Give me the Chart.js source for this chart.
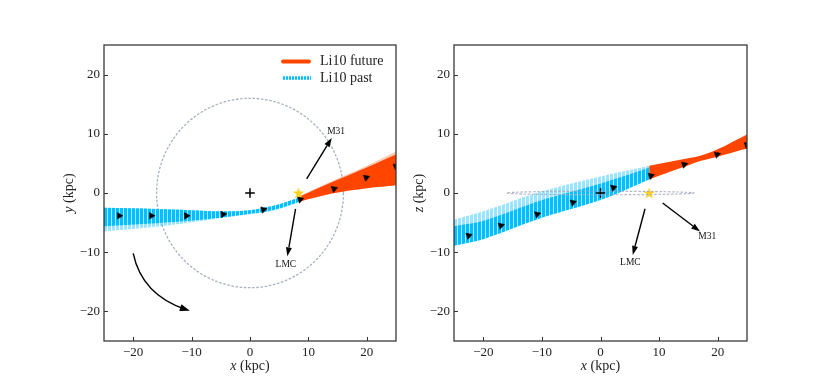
<!DOCTYPE html>
<html><head><meta charset="utf-8">
<script src="https://cdn.jsdelivr.net/npm/chart.js@4.4.0/dist/chart.umd.min.js"></script>
<style>
body{margin:0;background:#fff;width:830px;height:383px;overflow:hidden;position:relative}
.w{position:absolute;top:0;height:383px}
</style></head><body>
<div class="w" style="left:0;width:410px"><canvas id="c1"></canvas></div>
<div class="w" style="left:410px;width:420px"><canvas id="c2"></canvas></div>
<script>
// ---------- data ----------
const TICKS = [-20, -10, 0, 10, 20];
const AXIS_MIN = -25, AXIS_MAX = 25;
const LEGEND_LABELS = ['Li10 future', 'Li10 past'];

// left panel (x, y)
const XY_PAST_TOP = [[-25,-2.5],[-16,-2.7],[-10.3,-2.9],[-4.6,-3.1],[0,-2.9],[2.3,-2.5],[5,-1.9],[8.3,-0.8]];
const XY_PAST_CORE_BOTTOM = [[-25,-5.6],[-16,-5.1],[-10.3,-4.7],[-4.6,-4.1],[0,-3.5],[2.3,-3.2],[5,-2.6],[8.3,-1.5]];
const XY_PAST_BOTTOM = [[-25,-6.5],[-16,-5.7],[-10.3,-5.0],[-4.6,-4.2],[0,-3.6],[2.3,-3.3],[5,-2.7],[8.3,-1.6]];
const XY_FUT_TOP = [[8.3,-0.6],[14,2.0],[20,4.6],[25,7.0]];
const XY_FUT_CORE_TOP = [[8.3,-0.7],[14,1.8],[20,4.3],[25,6.5]];
const XY_FUT_BOTTOM = [[8.3,-1.5],[14,-0.1],[20,0.8],[25,1.3]];
const XY_MARKERS = [[-22.4,-3.85],[-16.9,-3.85],[-10.9,-3.85],[-4.6,-3.6],[2.3,-2.8],[8.6,-1.1],[14.4,0.7],[19.9,2.6],[25.0,4.5]];

// right panel (x, z)
const XZ_PAST_LIGHT_TOP = [[-25,-4.5],[-20,-3.1],[-10,0.3],[0,2.8],[8.3,4.6]];
const XZ_PAST_TOP = [[-25,-5.6],[-20,-4.7],[-10,-1.2],[0,1.6],[8.3,4.3]];
const XZ_PAST_BOTTOM = [[-25,-8.9],[-20,-7.8],[-10,-4.2],[0,-1.2],[8.3,2.3]];
const XZ_FUT_TOP = [[8.3,4.6],[14.5,5.8],[17,6.3],[19.8,7.3],[25,9.9]];
const XZ_FUT_BOTTOM = [[8.3,2.3],[14.5,4.5],[17,5.4],[19.8,6.1],[25,7.5]];
const XZ_MARKERS = [[-22.5,-7.2],[-17,-5.5],[-10.8,-3.6],[-4.7,-1.6],[2.2,0.9],[8.6,2.9],[14.3,4.8],[19.9,6.5],[25,8.1]];

const GC = [0, 0];          // Galactic centre
const SUN = [8.3, 0];
const DISK_R = 16;          // disc radius (kpc)
const DISK_EDGE_Z = 0.3;    // apparent thickness in x-z view

const XY_ARROWS = [ {name:'M31', from:[9.7,2.4], to:[14.0,9.3], label:[14.75,10.35]},
                    {name:'LMC', from:[7.8,-2.7], to:[6.4,-10.7], label:[6.15,-12.0]} ];
const XZ_ARROWS = [ {name:'LMC', from:[7.6,-2.66], to:[5.5,-10.46], label:[5.1,-11.75]},
                    {name:'M31', from:[10.6,-1.7], to:[17.0,-6.5], label:[18.2,-7.3]} ];
const ROT_ARROW = {from:[-20,-10.2], ctrl:[-18.5,-17.2], to:[-10.3,-19.9]};

// ---------- styling helpers ----------
const SERIF = "'Liberation Serif', 'DejaVu Serif', serif";
const CYAN = '#00BFFF', ORANGE = '#FF4500';
const pts = a => a.map(p => ({x:p[0], y:p[1]}));

function stripes(main, gap) {
  const c = document.createElement('canvas'); c.width = 4; c.height = 4;
  const g = c.getContext('2d');
  g.fillStyle = gap; g.fillRect(0,0,4,4);
  g.fillStyle = main; g.fillRect(0,0,3,4);
  return g.createPattern(c, 'repeat');
}
function starImg() {
  const c = document.createElement('canvas'); c.width = 14; c.height = 14;
  const g = c.getContext('2d'); g.fillStyle = '#FFD21F';
  g.beginPath();
  for (let i = 0; i < 10; i++) {
    const r = i % 2 ? 2.4 : 6.2, a = -Math.PI/2 + i*Math.PI/5;
    g.lineTo(7 + r*Math.cos(a), 7.5 + r*Math.sin(a));
  }
  g.closePath(); g.fill();
  return c;
}
const STAR = starImg();

function band(top, bottom, fillStyle, order) {
  return [
    {data: pts(top), fill: '+1', backgroundColor: fillStyle, borderColor: 'rgba(0,0,0,0)', borderWidth: 1, pointRadius: 0, tension: 0.35, order},
    {data: pts(bottom), fill: false, borderColor: 'rgba(0,0,0,0)', borderWidth: 1, pointRadius: 0, tension: 0.35, order}
  ];
}
function markerSet(arr) {
  return {data: pts(arr), showLine: false, pointStyle: 'triangle', pointRadius: 3.8,
    backgroundColor: '#000', borderColor: '#000', borderWidth: 0.5, order: 0,
    rotation: (c) => {
      const d = c.dataset.data; const i = Math.min(c.dataIndex, d.length - 2);
      const xs = c.chart.scales.x, ys = c.chart.scales.y;
      const dx = xs.getPixelForValue(d[i+1].x) - xs.getPixelForValue(d[i].x);
      const dy = ys.getPixelForValue(d[i+1].y) - ys.getPixelForValue(d[i].y);
      return 90 + Math.atan2(dy, dx) * 180 / Math.PI;
    }};
}
function pointSets() {
  return [
    {data: pts([GC]), showLine: false, pointStyle: 'cross', pointRadius: 4.8, borderWidth: 1.5, borderColor: '#000', order: 0},
    {data: pts([SUN]), showLine: false, pointStyle: STAR, pointRadius: 6, order: 0}
  ];
}

function arrowHead(ctx, x0, y0, x1, y1, len, w) {
  const a = Math.atan2(y1 - y0, x1 - x0);
  const bx = x1 - len*Math.cos(a), by = y1 - len*Math.sin(a);
  ctx.beginPath(); ctx.moveTo(x1, y1);
  ctx.lineTo(bx + w/2*Math.sin(a), by - w/2*Math.cos(a));
  ctx.lineTo(bx - w/2*Math.sin(a), by + w/2*Math.cos(a));
  ctx.closePath(); ctx.fill();
  return [bx, by];
}

function deco(opt) {
  return {
    id: 'deco',
    beforeDatasetsDraw(chart) {
      if (opt.disk !== 'circle') return;
      const {ctx, scales: {x, y}} = chart;
      ctx.save();
      ctx.strokeStyle = '#A9B1C3'; ctx.lineWidth = 1.3; ctx.setLineDash([2.6, 1.6]);
      ctx.beginPath();
      ctx.ellipse(x.getPixelForValue(0), y.getPixelForValue(0),
        Math.abs(x.getPixelForValue(DISK_R) - x.getPixelForValue(0)),
        Math.abs(y.getPixelForValue(DISK_R) - y.getPixelForValue(0)), 0, 0, 2*Math.PI);
      ctx.stroke(); ctx.restore();
    },
    afterDatasetsDraw(chart) {
      const {ctx, scales: {x, y}} = chart;
      const X = v => x.getPixelForValue(v), Y = v => y.getPixelForValue(v);
      ctx.save();
      if (opt.disk === 'edge') {
        ctx.strokeStyle = 'rgba(165,172,190,0.85)'; ctx.lineWidth = 1.2; ctx.setLineDash([2.6, 1.6]);
        ctx.beginPath();
        ctx.ellipse(X(0), Y(0), Math.abs(X(DISK_R) - X(0)), Math.abs(Y(DISK_EDGE_Z) - Y(0)), 0, 0, 2*Math.PI);
        ctx.stroke();
        ctx.setLineDash([]);
      }
      ctx.strokeStyle = '#000'; ctx.fillStyle = '#000'; ctx.lineWidth = 1.4;
      for (const a of opt.arrows) {
        const x0 = X(a.from[0]), y0 = Y(a.from[1]), x1 = X(a.to[0]), y1 = Y(a.to[1]);
        const [bx, by] = arrowHead(ctx, x0, y0, x1, y1, 9, 6);
        ctx.beginPath(); ctx.moveTo(x0, y0); ctx.lineTo(bx, by); ctx.stroke();
      }
      if (opt.rot) {
        const r = opt.rot;
        const x0 = X(r.from[0]), y0 = Y(r.from[1]), cx = X(r.ctrl[0]), cy = Y(r.ctrl[1]);
        const x1 = X(r.to[0]), y1 = Y(r.to[1]);
        ctx.beginPath(); ctx.moveTo(x0, y0); ctx.quadraticCurveTo(cx, cy, x1 - 4, y1 - 1.3); ctx.stroke();
        arrowHead(ctx, cx, cy, x1, y1, 10, 7);
      }
      ctx.font = '9.5px ' + SERIF; ctx.textAlign = 'center'; ctx.textBaseline = 'middle'; ctx.fillStyle = '#111';
      for (const a of opt.arrows) ctx.fillText(a.name, X(a.label[0]), Y(a.label[1]));
      ctx.restore();
    },
    afterDraw(chart) {
      const {ctx, chartArea: ca, scales: {x, y}} = chart;
      ctx.save();
      // ticks (inward)
      ctx.strokeStyle = '#333'; ctx.lineWidth = 1;
      for (const t of x.ticks) { const p = Math.round(x.getPixelForValue(t.value)) + 0.5;
        ctx.beginPath(); ctx.moveTo(p, ca.bottom); ctx.lineTo(p, ca.bottom - 4); ctx.stroke(); }
      for (const t of y.ticks) { const p = Math.round(y.getPixelForValue(t.value)) + 0.5;
        ctx.beginPath(); ctx.moveTo(ca.left, p); ctx.lineTo(ca.left + 4, p); ctx.stroke(); }
      // frame
      ctx.strokeStyle = '#3a3a3a'; ctx.lineWidth = 1.3;
      ctx.strokeRect(ca.left, ca.top, ca.right - ca.left, ca.bottom - ca.top);
      // axis titles: italic symbol + " (kpc)"
      const title = (sym, cx, cy, rot) => {
        ctx.save(); ctx.translate(cx, cy); ctx.rotate(rot);
        ctx.fillStyle = '#222'; ctx.textBaseline = 'middle'; ctx.textAlign = 'left';
        const fi = 'italic 14px ' + SERIF, fn = '14px ' + SERIF;
        ctx.font = fi; const w1 = ctx.measureText(sym).width;
        ctx.font = fn; const w2 = ctx.measureText(' (kpc)').width;
        const s = -(w1 + w2) / 2;
        ctx.font = fi; ctx.fillText(sym, s, 0);
        ctx.font = fn; ctx.fillText(' (kpc)', s + w1, 0);
        ctx.restore();
      };
      title('x', (ca.left + ca.right) / 2, 366, 0);
      title(opt.ylab, ca.left - 35, (ca.top + ca.bottom) / 2, -Math.PI / 2);
      // legend
      if (opt.legend) {
        const lx = ca.right - 113, ly1 = ca.top + 16.5, ly2 = ca.top + 33;
        ctx.lineWidth = 4; ctx.strokeStyle = ORANGE; ctx.lineCap = 'round';
        ctx.beginPath(); ctx.moveTo(lx, ly1); ctx.lineTo(lx + 26, ly1); ctx.stroke();
        ctx.lineCap = 'butt'; ctx.strokeStyle = CYAN; ctx.lineWidth = 3.5; ctx.setLineDash([2, 1]);
        ctx.beginPath(); ctx.moveTo(lx, ly2); ctx.lineTo(lx + 28, ly2); ctx.stroke();
        ctx.setLineDash([]);
        ctx.fillStyle = '#222'; ctx.font = '14px ' + SERIF; ctx.textBaseline = 'middle'; ctx.textAlign = 'left';
        ctx.fillText(LEGEND_LABELS[0], lx + 37, ly1);
        ctx.fillText(LEGEND_LABELS[1], lx + 37, ly2);
      }
      ctx.restore();
    }
  };
}

function axis() {
  return {
    type: 'linear', min: AXIS_MIN, max: AXIS_MAX,
    afterBuildTicks: s => { s.ticks = TICKS.map(v => ({value: v})); },
    grid: {display: false, drawTicks: false, tickLength: 0}, border: {display: false},
    ticks: {color: '#222', font: {family: SERIF, size: 13}, padding: 4,
      callback: v => (v < 0 ? '\u2212' + (-v) : '' + v)}
  };
}
function options(pad) {
  const xa = axis(); xa.afterFit = s => { s.height = 25; };
  const ya = axis(); ya.afterFit = s => { s.width = 30; };
  return {
    responsive: true, maintainAspectRatio: false, animation: false, devicePixelRatio: 1,
    layout: {padding: pad, autoPadding: false},
    plugins: {legend: {display: false}, tooltip: {enabled: false}},
    scales: {x: xa, y: ya}
  };
}

const cyanStrong = stripes(CYAN, '#A8E6FF');
const cyanLight = stripes('rgba(0,191,255,0.4)', 'rgba(255,255,255,0)');

new Chart(document.getElementById('c1'), {
  type: 'line',
  data: {datasets: [
    markerSet(XY_MARKERS), ...pointSets(),
    ...band(XY_FUT_CORE_TOP, XY_FUT_BOTTOM, ORANGE, 2),
    ...band(XY_FUT_TOP, XY_FUT_BOTTOM, 'rgba(255,69,0,0.3)', 3),
    ...band(XY_PAST_TOP, XY_PAST_CORE_BOTTOM, cyanStrong, 2),
    ...band(XY_PAST_TOP, XY_PAST_BOTTOM, cyanLight, 3)
  ]},
  options: options({left: 74, right: 14, top: 45, bottom: 17}),
  plugins: [deco({disk: 'circle', arrows: XY_ARROWS, rot: ROT_ARROW, ylab: 'y', legend: true})]
});

new Chart(document.getElementById('c2'), {
  type: 'line',
  data: {datasets: [
    markerSet(XZ_MARKERS), ...pointSets(),
    ...band(XZ_FUT_TOP, XZ_FUT_BOTTOM, ORANGE, 2),
    ...band(XZ_PAST_TOP, XZ_PAST_BOTTOM, cyanStrong, 2),
    ...band(XZ_PAST_LIGHT_TOP, XZ_PAST_TOP, cyanLight, 3)
  ]},
  options: options({left: 14, right: 83, top: 45, bottom: 17}),
  plugins: [deco({disk: 'edge', arrows: XZ_ARROWS, rot: null, ylab: 'z', legend: false})]
});
</script>
</body></html>
